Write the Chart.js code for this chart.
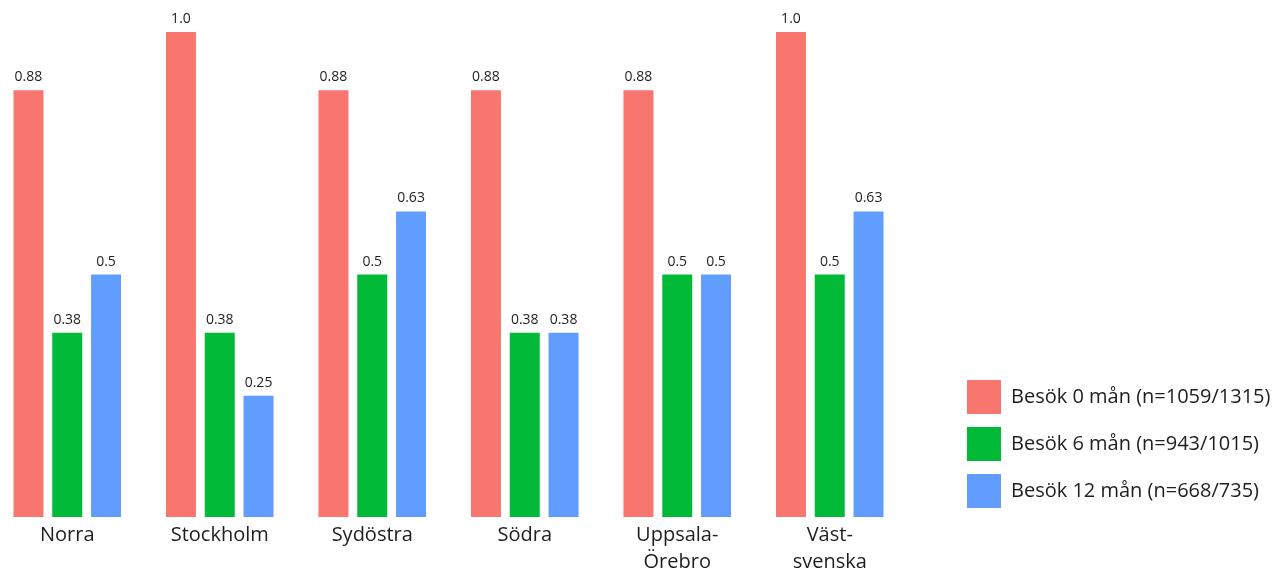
<!DOCTYPE html>
<html lang="sv">
<head>
<meta charset="utf-8">
<title>Besök per region</title>
<script src="https://cdn.jsdelivr.net/npm/chart.js@4.4.1/dist/chart.umd.min.js"></script>
<style>
  html, body { margin: 0; padding: 0; background: #fff; overflow: hidden; }
  /* el lienzo se desplaza un poco a la izquierda para que el primer grupo quede pegado al borde */
  .chart-box { position: absolute; left: -9px; top: 0; width: 1340px; height: 570px; }
</style>
</head>
<body>
<div class="chart-box"><canvas id="chartBar"></canvas></div>
<script>
// Datos
const regions = ["Norra", "Stockholm", "Sydöstra", "Södra", ["Uppsala-", "Örebro"], ["Väst-", "svenska"]];
const seriesNames = ["Besök 0 mån (n=1059/1315)", "Besök 6 mån (n=943/1015)", "Besök 12 mån (n=668/735)"];
const visit0 = [0.88, 1.0, 0.88, 0.88, 0.88, 1.0];
const visit6 = [0.38, 0.38, 0.5, 0.38, 0.5, 0.5];
const visit12 = [0.5, 0.25, 0.63, 0.38, 0.5, 0.63];
const seriesColors = ["#F8766D", "#00BA38", "#619CFF"];
const yMax = 1.0;

const textColor = "#1e1e1e";
Chart.defaults.font.family = "'Open Sans', sans-serif";

// Medidas del layout
const canvasWidth = 1340;
const plotRight = 915;   // borde derecho del área de barras
const legendGap = 48;    // espacio entre barras y leyenda
const legendWidth = 320; // ancho fijo de la caja de la leyenda
const padRight = canvasWidth - plotRight - legendGap - legendWidth;

// Etiquetas de valor encima de cada barra
const barValueLabels = {
  id: "barValueLabels",
  afterDatasetsDraw(chart) {
    const { ctx } = chart;
    ctx.save();
    ctx.font = "14px 'Open Sans', sans-serif";
    ctx.fillStyle = textColor;
    ctx.textAlign = "center";
    ctx.textBaseline = "alphabetic";
    chart.data.datasets.forEach((ds, i) => {
      chart.getDatasetMeta(i).data.forEach((bar, j) => {
        const v = ds.data[j];
        const txt = Number.isInteger(v) ? v.toFixed(1) : String(v);
        ctx.fillText(txt, bar.x, bar.y - 9);
      });
    });
    ctx.restore();
  }
};

// Bajar un poco la leyenda respecto al fondo del área de barras
const legendNudge = {
  id: "legendNudge",
  afterLayout(chart) {
    chart.legend.top += 4;
    chart.legend.bottom += 4;
  }
};

const seriesValues = [visit0, visit6, visit12];

const ctxBar = document.getElementById("chartBar").getContext("2d");
const barChart = new Chart(ctxBar, {
  type: "bar",
  data: {
    labels: regions,
    datasets: seriesValues.map((vals, i) => ({
      label: seriesNames[i],
      data: vals,
      backgroundColor: seriesColors[i],
      borderWidth: 0,
      categoryPercentage: 0.763,
      barPercentage: 0.773
    }))
  },
  options: {
    responsive: true,
    maintainAspectRatio: false,
    animation: false,
    layout: {
      padding: { left: 0, top: 32, right: padRight, bottom: 0 }
    },
    plugins: {
      tooltip: { enabled: false },
      legend: {
        position: "right",
        align: "end",
        fullSize: false,
        maxWidth: legendWidth,
        labels: {
          boxWidth: 34,
          boxHeight: 34,
          padding: 13,
          color: textColor,
          font: { size: 20 }
        }
      }
    },
    scales: {
      x: {
        grid: { display: false, drawTicks: false },
        border: { display: false },
        ticks: {
          color: textColor,
          font: { size: 20, lineHeight: 1.35 },
          padding: 5,
          autoSkip: false,
          minRotation: 0,
          maxRotation: 0
        },
        afterFit: scale => { scale.height = 53; }
      },
      y: {
        position: "right",
        min: 0,
        max: yMax,
        grid: { display: false, drawTicks: false },
        border: { display: false },
        ticks: { display: false },
        afterFit: scale => { scale.width = legendGap; }
      }
    }
  },
  plugins: [barValueLabels, legendNudge]
});
</script>
</body>
</html>
